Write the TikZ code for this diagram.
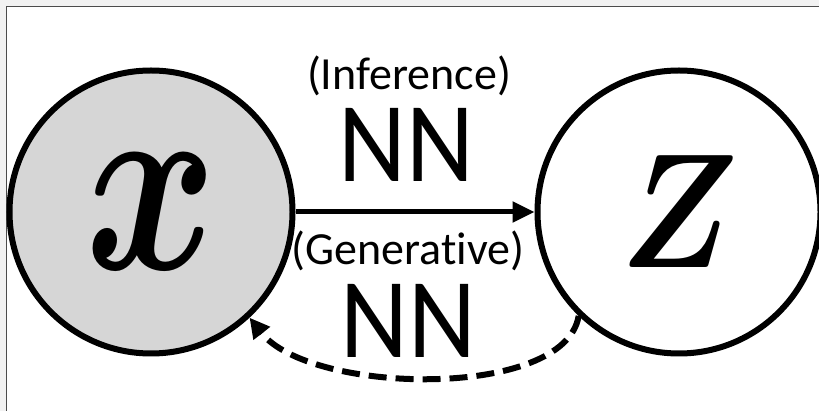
\documentclass[tikz,border=0pt]{standalone}
\usepackage{amsmath}
\usepackage{graphicx}
\usepackage{fontspec}
\newfontfamily\calib[Ligatures=NoCommon]{Carlito}
\usetikzlibrary{arrows.meta}
\tikzset{
  var/.style={circle, draw=black, line width=6pt, minimum size=283pt, inner sep=0pt},
  lbl/.style={font=\calib, inner sep=0pt, anchor=base},
}
\begin{document}
\begin{tikzpicture}[x=1pt, y=-1pt]
\useasboundingbox (0,0) rectangle (819,411);
\fill[gray!10] (0,0) rectangle (819,411);
\fill[white] (6,7) rectangle (819,411);
\draw[black!70, line width=1pt] (6,411) -- (6,7) -- (819,7);
\begin{scope}
\clip (6,7) rectangle (819,411);
\node[var, fill=black!16] (x) at (151,212) {};
\node[var, fill=white] (z) at (679,212) {};
\end{scope}
\node[inner sep=0pt] (xl) at (151,212) {\scalebox{20}[26]{$\boldsymbol{x}$}};
\node[inner sep=0pt] (zl) at (679,212) {\scalebox{14}[16.3]{$\boldsymbol{Z}$}};
\draw[line width=5pt, -{Triangle[length=22pt,width=20pt]}] (x.east) -- (z.west);
\draw[line width=6pt, dash pattern=on 18pt off 9pt, -{Triangle[length=20pt,width=20pt]}]
  (z.226) .. controls (565,400) and (310,395) .. (x.313);
\node[lbl, font=\calib\fontsize{46}{46}\selectfont] (inf) at (409,90) {(Inference)};
\node[lbl, font=\calib\fontsize{114}{114}\selectfont, xscale=0.92] (nn1) at (406,182) {NN};
\node[lbl, font=\calib\fontsize{46}{46}\selectfont] (gen) at (408,265) {(Generative)};
\node[lbl, font=\calib\fontsize{114}{114}\selectfont, xscale=0.92] (nn2) at (408,358) {NN};
\end{tikzpicture}
\end{document}
